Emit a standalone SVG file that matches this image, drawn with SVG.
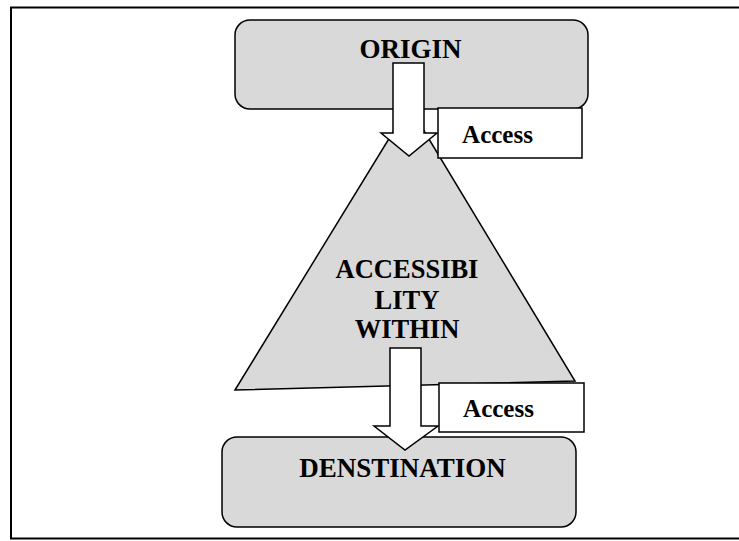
<svg xmlns="http://www.w3.org/2000/svg" width="739" height="541" viewBox="0 0 739 541">
<style>
.shape{fill:#d9d9d9;stroke:#000;stroke-width:1.5}
.box{fill:#fff;stroke:#000;stroke-width:1.5}
.arrow{fill:#fff;stroke:#000;stroke-width:1.5;stroke-linejoin:miter}
text{font-family:"Liberation Serif","Times New Roman",serif;font-weight:bold;fill:#000;text-anchor:middle}
.big{font-size:27px}
.mid{font-size:26.5px}
.small{font-size:25px}
</style>
<rect width="739" height="541" fill="#fff"/>
<rect x="11" y="7.5" width="740" height="531" fill="none" stroke="#000" stroke-width="2"/>
<g id="origin">
<rect class="shape" x="235" y="20" width="353" height="89" rx="15" ry="15"/>
<text class="big" x="410.5" y="58">ORIGIN</text>
</g>
<g id="accessibility">
<polygon class="shape" points="409,106 575,381 235,390"/>
<text class="mid" x="407" y="278">ACCESSIBI</text>
<text class="mid" x="407" y="309">LITY</text>
<text class="mid" x="407" y="338">WITHIN</text>
</g>
<g id="destination">
<rect class="shape" x="222" y="437" width="354" height="90" rx="15" ry="15"/>
<text class="big" x="402.5" y="477">DENSTINATION</text>
</g>
<g id="connectors">
<polygon class="arrow" points="393,63 424,63 424,133 437,133 409,156 381,133 393,133"/>
<polygon class="arrow" points="390,348 421,348 421,426 438,426 405,450 374,426 390,426"/>
</g>
<g id="access1">
<rect class="box" x="438" y="108" width="144" height="50"/>
<text class="small" x="497.5" y="143">Access</text>
</g>
<g id="access2">
<rect class="box" x="439" y="383" width="145" height="49"/>
<text class="small" x="498.5" y="417">Access</text>
</g>
</svg>
